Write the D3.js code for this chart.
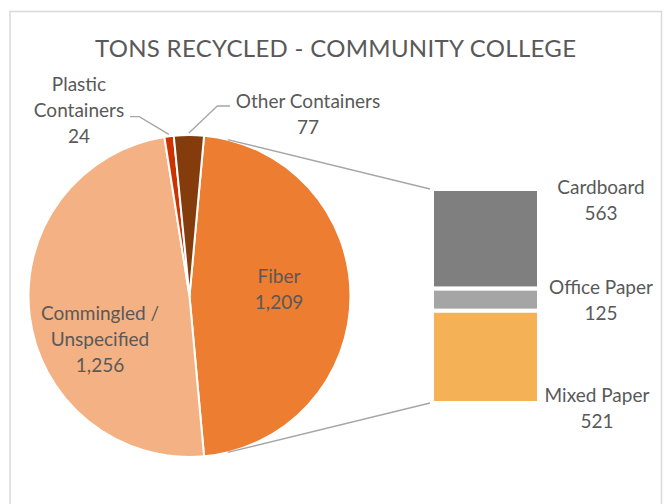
<!DOCTYPE html>
<html>
<head>
<meta charset="utf-8">
<script src="https://cdn.jsdelivr.net/npm/d3@7"></script>
<style>
    html, body { margin: 0; padding: 0; background: #fff; }
    svg { display: block; }
    text { font-family: Lato, "Open Sans", sans-serif; fill: #595959; }
</style>
</head>
<body>
<div id="chart"></div>
<script>
// Pie slices (Fiber is split out into the bar on the right)
const pieCategories = ["Fiber", "Commingled / Unspecified", "Plastic Containers", "Other Containers"];
const pieLabelLines = [["Fiber"], ["Commingled /", "Unspecified"], ["Plastic", "Containers"], ["Other Containers"]];
const pieValues = [1209, 1256, 24, 77];

// Breakdown of Fiber
const barCategories = ["Cardboard", "Office Paper", "Mixed Paper"];
const barValues = [563, 125, 521];

const pieColors = ["#ED7D31", "#F4B183", "#CC3300", "#843C0C"];
const barColors = ["#7F7F7F", "#A5A5A5", "#F4B155"];

const width = 665, height = 504;
const cx = 189.5, cy = 296, radius = 161;
const fmt = d3.format(",");

const svg = d3.select("#chart")
    .append("svg")
    .attr("width", width)
    .attr("height", height);

// chart frame
svg.append("rect")
    .attr("x", 10).attr("y", 11.5)
    .attr("width", 651.5).attr("height", 600)
    .attr("fill", "none")
    .attr("stroke", "#d9d9d9")
    .attr("stroke-width", 1.5);

// Title
svg.append("text")
    .attr("x", 335.5).attr("y", 57.3)
    .attr("text-anchor", "middle")
    .attr("textLength", 481)
    .attr("lengthAdjust", "spacing")
    .style("font-size", "24px")
    .text("TONS RECYCLED - COMMUNITY COLLEGE");

// Pie - the split slice is centered on 3 o'clock
const total = d3.sum(pieValues);
const splitAngle = 2 * Math.PI * pieValues[0] / total;
const start = Math.PI / 2 - splitAngle / 2;

const pie = d3.pie().sort(null).value(d => d)
    .startAngle(start).endAngle(start + 2 * Math.PI);
const arcs = pie(pieValues);
const arc = d3.arc().innerRadius(0).outerRadius(radius);

const pieG = svg.append("g").attr("transform", `translate(${cx},${cy})`);
pieG.selectAll("path")
    .data(arcs)
    .join("path")
    .attr("d", arc)
    .attr("fill", (d, i) => pieColors[i])
    .attr("stroke", "#fff")
    .attr("stroke-width", 2);

// Bar of pie
const barX = 432, barW = 107;
const y = d3.scaleLinear().domain([0, d3.sum(barValues)]).range([189, 403]);
const stacked = barValues.map((v, i) => ({
    name: barCategories[i],
    value: v,
    y0: d3.sum(barValues.slice(0, i)),
    y1: d3.sum(barValues.slice(0, i + 1))
}));

svg.append("g")
    .selectAll("rect")
    .data(stacked)
    .join("rect")
    .attr("x", barX)
    .attr("y", d => y(d.y0))
    .attr("width", barW)
    .attr("height", d => y(d.y1) - y(d.y0))
    .attr("fill", (d, i) => barColors[i])
    .attr("stroke", "#fff")
    .attr("stroke-width", 4);

// series lines: tangent from bar corners to the pie
function tangentPoint(px, py, side) {
    const dx = px - cx, dy = py - cy;
    const d = Math.hypot(dx, dy);
    const base = Math.atan2(dy, dx);
    const a = base + side * Math.acos(radius / d);
    return [cx + radius * Math.cos(a), cy + radius * Math.sin(a)];
}
const corners = [[barX - 2, y(0), -1], [barX - 2, y(d3.sum(barValues)), 1]];
svg.append("g")
    .selectAll("line")
    .data(corners)
    .join("line")
    .attr("x1", d => tangentPoint(d[0], d[1], d[2])[0])
    .attr("y1", d => tangentPoint(d[0], d[1], d[2])[1])
    .attr("x2", d => d[0])
    .attr("y2", d => d[1])
    .attr("stroke", "#A6A6A6")
    .attr("stroke-width", 1.3);

// label layout (center x, first baseline)
const lineH = 26;
const pieLabelPos = [[279, 283], [100, 320], [79, 90.7], [308, 108.3]];
// leader lines for the small slices: elbow and end points
const leaders = {
    2: [[139.3, 116.7], [130, 116.7]],
    3: [[217.3, 106], [230, 106]]
};

Object.keys(leaders).forEach(k => {
    const a = arcs[k];
    const mid = (a.startAngle + a.endAngle) / 2;
    const r = radius + 2;
    const p0 = [cx + r * Math.sin(mid), cy - r * Math.cos(mid)];
    svg.append("path")
        .attr("d", d3.line()([p0, ...leaders[k]]))
        .attr("fill", "none")
        .attr("stroke", "#A6A6A6")
        .attr("stroke-width", 1.3);
});

const labelG = svg.append("g").style("font-size", "19px");

pieValues.forEach((v, i) => {
    const lines = pieLabelLines[i].concat([fmt(v)]);
    const t = labelG.append("text")
        .attr("text-anchor", "middle");
    lines.forEach((s, j) => {
        t.append("tspan")
            .attr("x", pieLabelPos[i][0])
            .attr("y", pieLabelPos[i][1] + j * lineH)
            .text(s);
    });
});

// bar labels: to the right of the bar, top / middle / bottom of each segment
const barLabelX = [601, 601, 597];
const barLabelY = [
    d => y(d.y0) + 5,
    d => (y(d.y0) + y(d.y1)) / 2 - 6,
    d => y(d.y1) - 1.3
];
stacked.forEach((d, i) => {
    const t = labelG.append("text").attr("text-anchor", "middle");
    [d.name, fmt(d.value)].forEach((s, j) => {
        t.append("tspan")
            .attr("x", barLabelX[i])
            .attr("y", barLabelY[i](d) + j * lineH)
            .text(s);
    });
});
</script>
</body>
</html>
